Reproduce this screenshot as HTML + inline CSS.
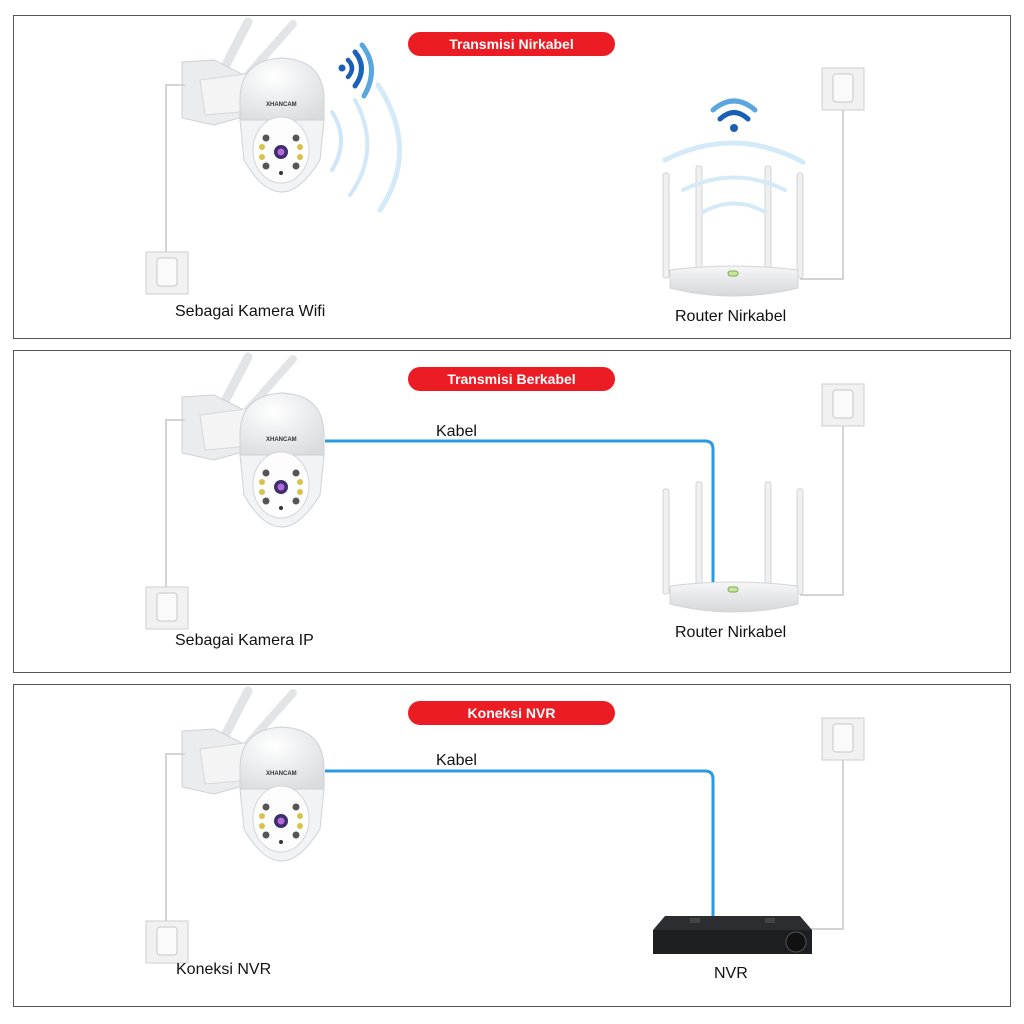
<!DOCTYPE html>
<html><head><meta charset="utf-8"><style>
html,body{margin:0;padding:0;background:#fff;}
svg{display:block;}
text{font-family:"Liberation Sans",sans-serif;}
</style></head><body>
<svg width="1024" height="1024" viewBox="0 0 1024 1024" xmlns="http://www.w3.org/2000/svg">
<defs>
  <radialGradient id="dome" cx="0.4" cy="0.3" r="0.8">
    <stop offset="0" stop-color="#ffffff"/><stop offset="1" stop-color="#d9dbde"/>
  </radialGradient>
  <linearGradient id="rb" x1="0" y1="0" x2="0" y2="1">
    <stop offset="0" stop-color="#f7f7f7"/><stop offset="1" stop-color="#d5d7da"/>
  </linearGradient>
  <g id="socket">
    <rect x="0" y="0" width="42" height="42" fill="#f1f1f1" stroke="#cfcfcf"/>
    <rect x="11" y="6" width="20" height="28" rx="3" fill="#fafafa" stroke="#c8c8c8"/>
  </g>
  <g id="cam">
    <line x1="205" y1="105" x2="248" y2="22" stroke="#e3e4e6" stroke-width="9" stroke-linecap="round"/>
    <line x1="230" y1="95" x2="293" y2="24" stroke="#e3e4e6" stroke-width="8" stroke-linecap="round"/>
    <path d="M182 62 L214 60 L250 78 L250 115 L214 125 L182 118 Z" fill="#ebecee" stroke="#cfd1d4"/>
    <path d="M200 80 L260 72 L262 110 L205 115 Z" fill="#f4f4f5" stroke="#d6d7d9"/>
    <path d="M240 100 Q240 60 282 58 Q324 60 324 100 L324 120 L240 120 Z" fill="url(#dome)" stroke="#cfd1d4"/>
    <text x="266" y="106" font-size="6" font-weight="bold" fill="#333">XHANCAM</text>
    <path d="M240 120 L324 120 L320 160 Q300 192 282 192 Q262 192 244 160 Z" fill="#f2f3f4" stroke="#cfd1d4"/>
    <ellipse cx="281" cy="150" rx="28" ry="33" fill="#fdfdfd" stroke="#d4d5d8"/>
    <circle cx="281" cy="152" r="7" fill="#3b2f70"/><circle cx="281" cy="152" r="3.5" fill="#b66ad8"/>
    <g fill="#555"><circle cx="266" cy="138" r="3.5"/><circle cx="296" cy="138" r="3.5"/><circle cx="266" cy="166" r="3.5"/><circle cx="296" cy="166" r="3.5"/></g>
    <g fill="#d8c24a"><circle cx="262" cy="147" r="3"/><circle cx="300" cy="147" r="3"/><circle cx="262" cy="157" r="3"/><circle cx="300" cy="157" r="3"/></g>
    <circle cx="281" cy="173" r="2" fill="#333"/>
    <path d="M185 85 L166 85 L166 252" fill="none" stroke="#d4d4d4" stroke-width="2"/>
    <use href="#socket" x="146" y="252"/>
  </g>
  <g id="router">
    <g fill="#f0f0f1" stroke="#d3d4d6">
      <rect x="663" y="173" width="6" height="105" rx="2"/>
      <rect x="696" y="166" width="6" height="110" rx="2"/>
      <rect x="765" y="166" width="6" height="110" rx="2"/>
      <rect x="797" y="173" width="6" height="105" rx="2"/>
    </g>
    <path d="M843 110 L843 279 L800 279" fill="none" stroke="#d4d4d4" stroke-width="2"/>
    <use href="#socket" x="822" y="68"/>
    <path d="M670 270 Q733 262 798 270 L798 288 Q733 304 670 288 Z" fill="url(#rb)" stroke="#d3d4d6"/>
    <rect x="728" y="271" width="10" height="5" rx="2.5" fill="#c7e5a0" stroke="#7aa94a"/>
  </g>
</defs>

<g fill="none" stroke="#555" stroke-width="1">
  <rect x="13.5" y="15.5" width="997" height="323"/>
  <rect x="13.5" y="350.5" width="997" height="322"/>
  <rect x="13.5" y="684.5" width="997" height="322"/>
</g>

<!-- Panel 1 -->
<use href="#cam"/>
<circle cx="342" cy="68" r="3.5" fill="#1a5fb4"/>
<g fill="none" stroke-linecap="round">
  <path d="M348 60 Q356 68 348 77" stroke="#1a5fb4" stroke-width="4.5"/>
  <path d="M355 52 Q368 68 355 86" stroke="#1a63b8" stroke-width="5"/>
  <path d="M362 45 Q380 68 364 96" stroke="#5aa6de" stroke-width="5"/>
  <path d="M332 112 Q350 140 332 170" stroke="#cfe6f8" stroke-width="4"/>
  <path d="M355 100 Q382 150 350 195" stroke="#d2e8f8" stroke-width="4"/>
  <path d="M378 85 Q420 150 380 210" stroke="#d5eaf8" stroke-width="5"/>
</g>
<use href="#router"/>
<g fill="none" stroke-linecap="round">
  <path d="M713 110 Q734 92 755 110" stroke="#5aa6de" stroke-width="5"/>
  <path d="M720 119 Q734 106 748 119" stroke="#1a5fb4" stroke-width="5"/>
  <path d="M665 160 Q734 125 803 162" stroke="#d5eaf8" stroke-width="5"/>
  <path d="M683 190 Q734 165 785 190" stroke="#d5eaf8" stroke-width="4"/>
  <path d="M703 212 Q734 195 765 212" stroke="#d5eaf8" stroke-width="4"/>
</g>
<circle cx="734" cy="128" r="4" fill="#1a5fb4"/>
<rect x="408" y="32" width="207" height="24" rx="12" fill="#ec1c24"/>
<text x="511.5" y="49" font-size="14" font-weight="bold" fill="#fff" text-anchor="middle">Transmisi Nirkabel</text>
<text x="175" y="316" font-size="16" fill="#111">Sebagai Kamera Wifi</text>
<text x="675" y="321" font-size="16" fill="#111">Router Nirkabel</text>

<!-- Panel 2 -->
<g transform="translate(0,335)"><use href="#cam"/></g>
<g transform="translate(0,316)"><use href="#router"/></g>
<path d="M325 441 L705 441 Q713 441 713 449 L713 582" fill="none" stroke="#2a9be0" stroke-width="3"/>
<rect x="408" y="367" width="207" height="24" rx="12" fill="#ec1c24"/>
<text x="511.5" y="384" font-size="14" font-weight="bold" fill="#fff" text-anchor="middle">Transmisi Berkabel</text>
<text x="436" y="436" font-size="16" fill="#111">Kabel</text>
<text x="175" y="645" font-size="16" fill="#111">Sebagai Kamera IP</text>
<text x="675" y="637" font-size="16" fill="#111">Router Nirkabel</text>

<!-- Panel 3 -->
<g transform="translate(0,669)"><use href="#cam"/></g>
<path d="M325 771 L705 771 Q713 771 713 779 L713 917" fill="none" stroke="#2a9be0" stroke-width="3"/>
<path d="M843 760 L843 929 L810 929" fill="none" stroke="#d4d4d4" stroke-width="2"/>
<use href="#socket" x="822" y="718"/>
<path d="M665 916 L800 916 L812 930 L653 930 Z" fill="#2b2d31"/>
<rect x="653" y="930" width="159" height="24" fill="#1d1f22"/>
<rect x="690" y="918" width="10" height="5" fill="#444"/><rect x="765" y="918" width="10" height="5" fill="#444"/>
<circle cx="796" cy="942" r="10" fill="#111" stroke="#555"/>
<rect x="408" y="701" width="207" height="24" rx="12" fill="#ec1c24"/>
<text x="511.5" y="718" font-size="14" font-weight="bold" fill="#fff" text-anchor="middle">Koneksi NVR</text>
<text x="436" y="765" font-size="16" fill="#111">Kabel</text>
<text x="176" y="974" font-size="16" fill="#111">Koneksi NVR</text>
<text x="714" y="978" font-size="16" fill="#111">NVR</text>
</svg>
</body></html>
